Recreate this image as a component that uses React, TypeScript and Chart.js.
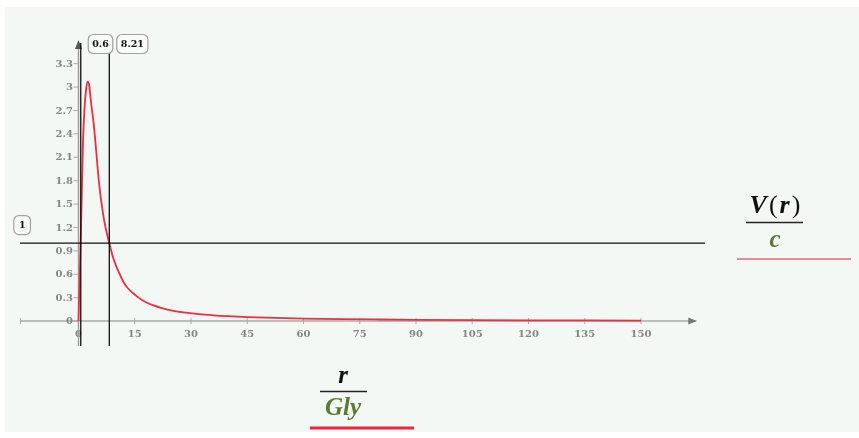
import React, { useEffect, useRef } from 'react';
import { Chart, registerables } from 'chart.js';

Chart.register(...registerables);

// r / Gly values and V(r)/c values
const rValues = [0, 0.3, 0.6, 0.9, 1.2, 1.6, 2.0, 2.4, 2.8, 3.3, 4.0, 4.5, 5.0, 5.5, 6.0, 7.0, 8.21, 9, 10, 11, 12, 13, 14, 15, 16, 18, 20, 22, 25, 28, 32, 36, 40, 45, 50, 55, 60, 70, 80, 90, 105, 120, 135, 150];
const vValues = [0, 0.55, 1.05, 1.7, 2.3, 2.72, 2.96, 3.07, 3.04, 2.82, 2.55, 2.3, 2.02, 1.76, 1.56, 1.25, 1.0, 0.85, 0.71, 0.6, 0.5, 0.43, 0.38, 0.34, 0.3, 0.24, 0.2, 0.17, 0.135, 0.11, 0.088, 0.073, 0.062, 0.051, 0.043, 0.037, 0.032, 0.025, 0.02, 0.016, 0.012, 0.0095, 0.0078, 0.0065];

const xTicks = [0, 15, 30, 45, 60, 75, 90, 105, 120, 135, 150];
const xTickLabels = ['0', '15', '30', '45', '60', '75', '90', '105', '120', '135', '150'];
const yTicks = [0, 0.3, 0.6, 0.9, 1.2, 1.5, 1.8, 2.1, 2.4, 2.7, 3, 3.3];
const yTickLabels = ['0', '0.3', '0.6', '0.9', '1.2', '1.5', '1.8', '2.1', '2.4', '2.7', '3', '3.3'];

const xMarkers = [0.6, 8.21];
const xMarkerLabels = ['0.6', '8.21'];
const yMarkers = [1];
const yMarkerLabels = ['1'];

const X_MIN = -15.6;
const X_MAX = 167.07;
const X_AXIS_END = 165;
const Y_MIN = -0.32;
const Y_MAX = 3.565;

const TICK_FONT = 'bold 10px "DejaVu Serif"';
const MARK_FONT = 'bold 9.5px "DejaVu Serif"';
const GREEN = '#5a7a32';

function roundBox(ctx: CanvasRenderingContext2D, x: number, y: number, w: number, h: number, r: number) {
  ctx.beginPath();
  ctx.roundRect(x, y, w, h, r);
  ctx.fillStyle = '#f9fbf9';
  ctx.fill();
  ctx.strokeStyle = '#a0a0a0';
  ctx.lineWidth = 1.2;
  ctx.stroke();
}

const plotPlugin = {
  id: 'mathcadPlot',
  beforeDraw(chart: any) {
    const ctx = chart.ctx as CanvasRenderingContext2D;
    ctx.save();
    ctx.fillStyle = '#ffffff';
    ctx.fillRect(0, 0, chart.width, chart.height);
    ctx.fillStyle = '#f4f8f5';
    ctx.fillRect(5, 7, chart.width - 5, 425);
    ctx.restore();
  },
  beforeDatasetsDraw(chart: any) {
    const ctx = chart.ctx as CanvasRenderingContext2D;
    const { x, y } = chart.scales;
    const ca = chart.chartArea;
    const x0 = x.getPixelForValue(0);
    const y0 = y.getPixelForValue(0);
    ctx.save();
    // x axis
    const xEnd = x.getPixelForValue(X_AXIS_END);
    ctx.strokeStyle = '#aaaaaa';
    ctx.lineWidth = 1.5;
    ctx.beginPath();
    ctx.moveTo(ca.left, y0);
    ctx.lineTo(xEnd - 6, y0);
    ctx.stroke();
    ctx.fillStyle = '#777777';
    ctx.beginPath();
    ctx.moveTo(xEnd, y0);
    ctx.lineTo(xEnd - 9, y0 - 3.5);
    ctx.lineTo(xEnd - 9, y0 + 3.5);
    ctx.closePath();
    ctx.fill();
    // left cap tick
    ctx.strokeStyle = '#aaaaaa';
    ctx.lineWidth = 1;
    ctx.beginPath();
    ctx.moveTo(ca.left + 0.5, y0 - 3);
    ctx.lineTo(ca.left + 0.5, y0 + 3);
    ctx.stroke();
    // x ticks and labels
    ctx.font = TICK_FONT;
    ctx.fillStyle = '#858585';
    ctx.textAlign = 'center';
    ctx.textBaseline = 'middle';
    xTicks.forEach((v, i) => {
      const px = x.getPixelForValue(v);
      ctx.beginPath();
      ctx.moveTo(px, y0 - 3);
      ctx.lineTo(px, y0 + 3);
      ctx.stroke();
      ctx.fillText(xTickLabels[i], px, y0 + 13);
    });
    // y axis
    ctx.strokeStyle = '#999999';
    ctx.lineWidth = 1.4;
    ctx.beginPath();
    ctx.moveTo(x0, ca.bottom);
    ctx.lineTo(x0, ca.top + 4);
    ctx.stroke();
    ctx.fillStyle = '#555555';
    ctx.beginPath();
    ctx.moveTo(x0, ca.top - 3);
    ctx.lineTo(x0 - 3.5, ca.top + 6);
    ctx.lineTo(x0 + 3.5, ca.top + 6);
    ctx.closePath();
    ctx.fill();
    // y ticks and labels
    ctx.strokeStyle = '#aaaaaa';
    ctx.lineWidth = 1;
    ctx.fillStyle = '#858585';
    ctx.textAlign = 'right';
    yTicks.forEach((v, i) => {
      const py = y.getPixelForValue(v);
      ctx.beginPath();
      ctx.moveTo(x0 - 5, py);
      ctx.lineTo(x0, py);
      ctx.stroke();
      ctx.fillText(yTickLabels[i], x0 - 5.5, py + 0.5);
    });
    ctx.restore();
  },
  afterDatasetsDraw(chart: any) {
    const ctx = chart.ctx as CanvasRenderingContext2D;
    const { x, y } = chart.scales;
    const ca = chart.chartArea;
    ctx.save();
    ctx.strokeStyle = '#111111';
    ctx.lineWidth = 1.3;
    xMarkers.forEach((v) => {
      const px = x.getPixelForValue(v);
      ctx.beginPath();
      ctx.moveTo(px, ca.top);
      ctx.lineTo(px, ca.bottom);
      ctx.stroke();
    });
    yMarkers.forEach((v) => {
      const py = y.getPixelForValue(v);
      ctx.beginPath();
      ctx.moveTo(ca.left, py);
      ctx.lineTo(ca.right, py);
      ctx.stroke();
    });
    // marker labels
    ctx.font = MARK_FONT;
    ctx.textAlign = 'center';
    ctx.textBaseline = 'middle';
    xMarkers.forEach((v, i) => {
      const px = x.getPixelForValue(v);
      const w = ctx.measureText(xMarkerLabels[i]).width + 8;
      const bx = px + 7;
      roundBox(ctx, bx + 0.5, 34.5, w, 19, 5);
      ctx.fillStyle = '#111111';
      ctx.fillText(xMarkerLabels[i], bx + 0.5 + w / 2, 44.5);
    });
    yMarkers.forEach((v, i) => {
      const py = y.getPixelForValue(v);
      const w = ctx.measureText(yMarkerLabels[i]).width + 10;
      const bx = 30 - w;
      roundBox(ctx, bx + 0.5, py - 27.5, w, 19, 5);
      ctx.fillStyle = '#111111';
      ctx.fillText(yMarkerLabels[i], bx + 0.5 + w / 2, py - 17.5);
    });

    // Right axis label: V(r) / c
    ctx.textBaseline = 'alphabetic';
    ctx.fillStyle = '#111111';
    const vx = 775;
    const parts = [
      { t: 'V', f: 'bold italic 26px "Liberation Serif"' },
      { t: '(', f: '26px "Liberation Serif"' },
      { t: 'r', f: 'bold italic 26px "Liberation Serif"' },
      { t: ')', f: '26px "Liberation Serif"' },
    ];
    const gap = 2;
    let total = 0;
    const widths = parts.map((p) => {
      ctx.font = p.f;
      const w = ctx.measureText(p.t).width;
      total += w;
      return w;
    });
    total += gap * (parts.length - 1);
    let cx = vx - total / 2;
    ctx.textAlign = 'left';
    parts.forEach((p, i) => {
      ctx.font = p.f;
      ctx.fillText(p.t, cx, 213);
      cx += widths[i] + gap;
    });
    ctx.strokeStyle = '#222222';
    ctx.lineWidth = 1.5;
    ctx.beginPath();
    ctx.moveTo(746, 222.5);
    ctx.lineTo(803, 222.5);
    ctx.stroke();
    ctx.textAlign = 'center';
    ctx.fillStyle = GREEN;
    ctx.font = 'bold italic 25px "Liberation Serif"';
    ctx.fillText('c', 775, 247);
    ctx.strokeStyle = '#f08a92';
    ctx.lineWidth = 2;
    ctx.beginPath();
    ctx.moveTo(737, 259);
    ctx.lineTo(851, 259);
    ctx.stroke();

    // Bottom axis label: r / Gly
    ctx.fillStyle = '#111111';
    ctx.font = 'bold italic 25px "Liberation Serif"';
    ctx.fillText('r', 343, 383);
    ctx.strokeStyle = '#222222';
    ctx.lineWidth = 1.5;
    ctx.beginPath();
    ctx.moveTo(320, 391.5);
    ctx.lineTo(367, 391.5);
    ctx.stroke();
    ctx.fillStyle = GREEN;
    ctx.font = 'bold italic 25px "Liberation Serif"';
    ctx.fillText('Gly', 343, 415);
    ctx.strokeStyle = '#e8283a';
    ctx.lineWidth = 3;
    ctx.beginPath();
    ctx.moveTo(310, 428);
    ctx.lineTo(414, 428);
    ctx.stroke();
    ctx.restore();
  },
};

export default function App() {
  const canvasRef = useRef<HTMLCanvasElement | null>(null);

  useEffect(() => {
    const canvas = canvasRef.current;
    if (!canvas) return;
    const points = rValues.map((r, i) => ({ x: r, y: vValues[i] }));
    const chart = new Chart(canvas, {
      type: 'scatter',
      data: {
        datasets: [
          {
            data: points,
            showLine: true,
            borderColor: '#ee2d40',
            borderWidth: 1.8,
            pointRadius: 0,
            cubicInterpolationMode: 'monotone',
            fill: false,
          },
        ],
      },
      options: {
        responsive: false,
        animation: false,
        devicePixelRatio: 1,
        layout: { padding: { left: 20, right: 154, top: 43, bottom: 92 } },
        scales: {
          x: { type: 'linear', min: X_MIN, max: X_MAX, display: false },
          y: { type: 'linear', min: Y_MIN, max: Y_MAX, display: false },
        },
        plugins: {
          legend: { display: false },
          tooltip: { enabled: false },
        },
      },
      plugins: [plotPlugin],
    });
    return () => chart.destroy();
  }, []);

  return (
    <div style={{ position: 'absolute', left: 0, top: 0, width: 859, height: 438 }}>
      <canvas ref={canvasRef} width={859} height={438} style={{ display: 'block' }} />
    </div>
  );
}
